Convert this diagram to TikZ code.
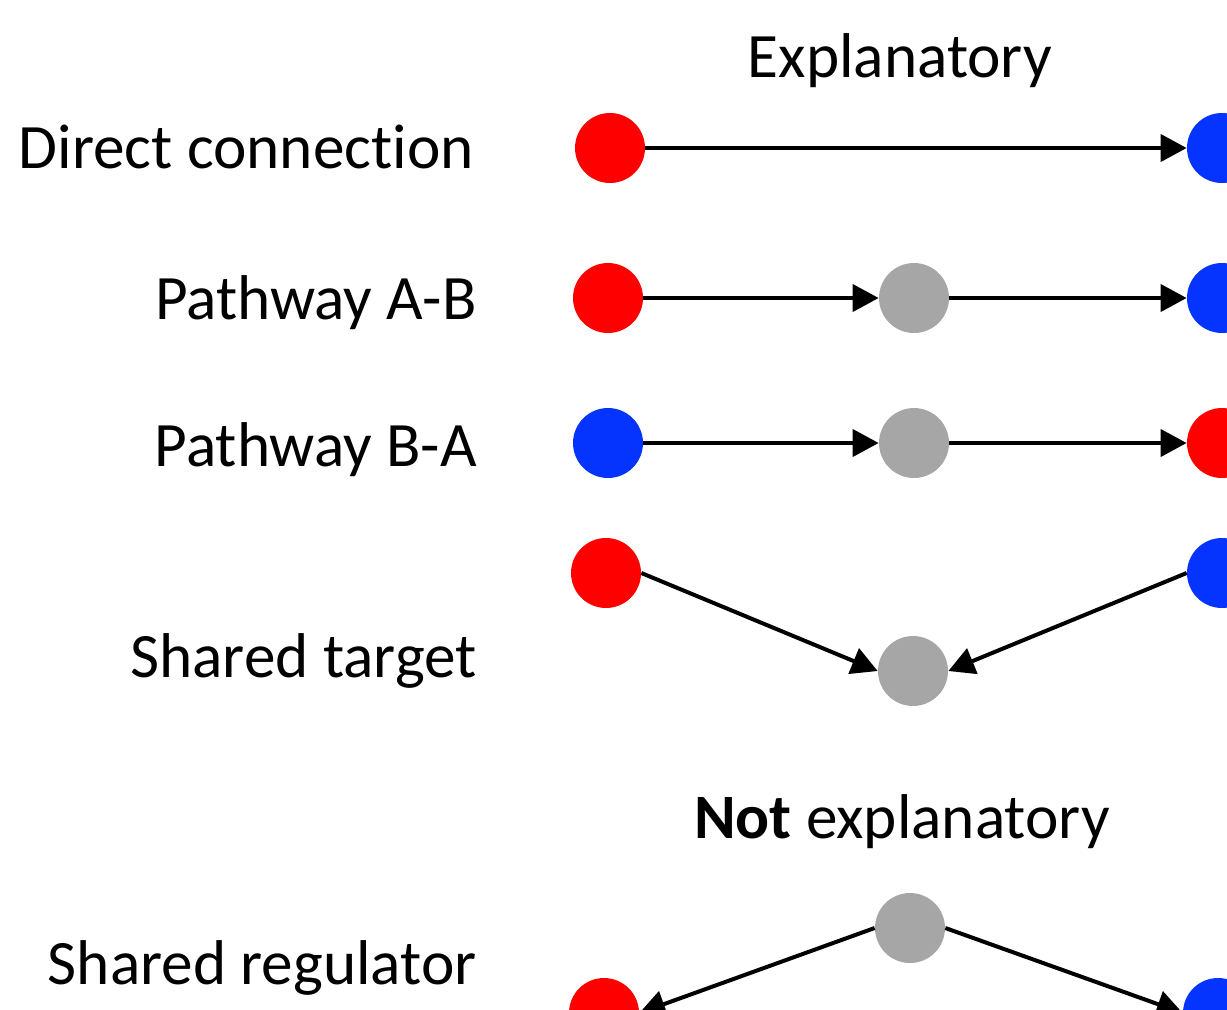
\documentclass[tikz,border=0pt]{standalone}
\usepackage{fontspec}
\setmainfont[Ligatures=NoCommon]{Carlito}
\usetikzlibrary{arrows.meta}
\definecolor{gene red}{RGB}{255,0,0}
\definecolor{gene blue}{RGB}{5,51,255}
\definecolor{gene gray}{RGB}{166,166,166}
\tikzset{
	dot/.style={circle, inner sep=0pt, minimum size=1.4cm},
	reddot/.style={dot, fill=gene red},
	bluedot/.style={dot, fill=gene blue},
	graydot/.style={dot, fill=gene gray},
	link/.style={line width=0.08cm, -{Triangle[length=0.52cm,width=0.54cm]}},
	rowlabel/.style={anchor=east, inner sep=0pt}
}
\begin{document}
\begin{tikzpicture}[x=0.02cm, y=-0.02cm, font=\fontsize{36}{43}\selectfont]
	\useasboundingbox (0,0) rectangle (1227,1009);
	\clip (0,0) rectangle (1227,1009);

	\node at (900,61) (expl) {Explanatory};
	\node at (902,822) (notexpl) {\textbf{Not} explanatory};

	\node[rowlabel] at (474,147) (direct) {Direct connection};
	\node[rowlabel] at (477,303) (pathab) {Pathway A-B};
	\node[rowlabel] at (477,450) (pathba) {Pathway B-A};
	\node[rowlabel] at (477,661) (target) {Shared target};
	\node[rowlabel] at (477,968) (regulator) {Shared regulator};

	\node[reddot] at (610,148) (d1) {}; %direct
	\node[bluedot] at (1222,148) (d2) {};
	\draw[link] (d1) -- (d2);

	\node[reddot] at (608,298) (ab1) {}; %pathway A-B
	\node[graydot] at (914,298) (ab2) {};
	\node[bluedot] at (1222,298) (ab3) {};
	\draw[link] (ab1) -- (ab2);
	\draw[link] (ab2) -- (ab3);

	\node[bluedot] at (608,443) (ba1) {}; %pathway B-A
	\node[graydot] at (914,443) (ba2) {};
	\node[reddot] at (1222,443) (ba3) {};
	\draw[link] (ba1) -- (ba2);
	\draw[link] (ba2) -- (ba3);

	\node[reddot] at (606,573) (st1) {}; %shared target
	\node[bluedot] at (1222,573) (st2) {};
	\node[graydot] at (913,671) (st3) {};
	\draw[link] (st1.east) -- (st3.west);
	\draw[link] (st2.west) -- (st3.east);

	\node[graydot] at (910,928) (sr1) {}; %shared regulator
	\node[reddot] at (604,1013) (sr2) {};
	\node[bluedot] at (1218,1013) (sr3) {};
	\draw[link] (sr1.west) -- (sr2.east);
	\draw[link] (sr1.east) -- (sr3.west);
\end{tikzpicture}
\end{document}
